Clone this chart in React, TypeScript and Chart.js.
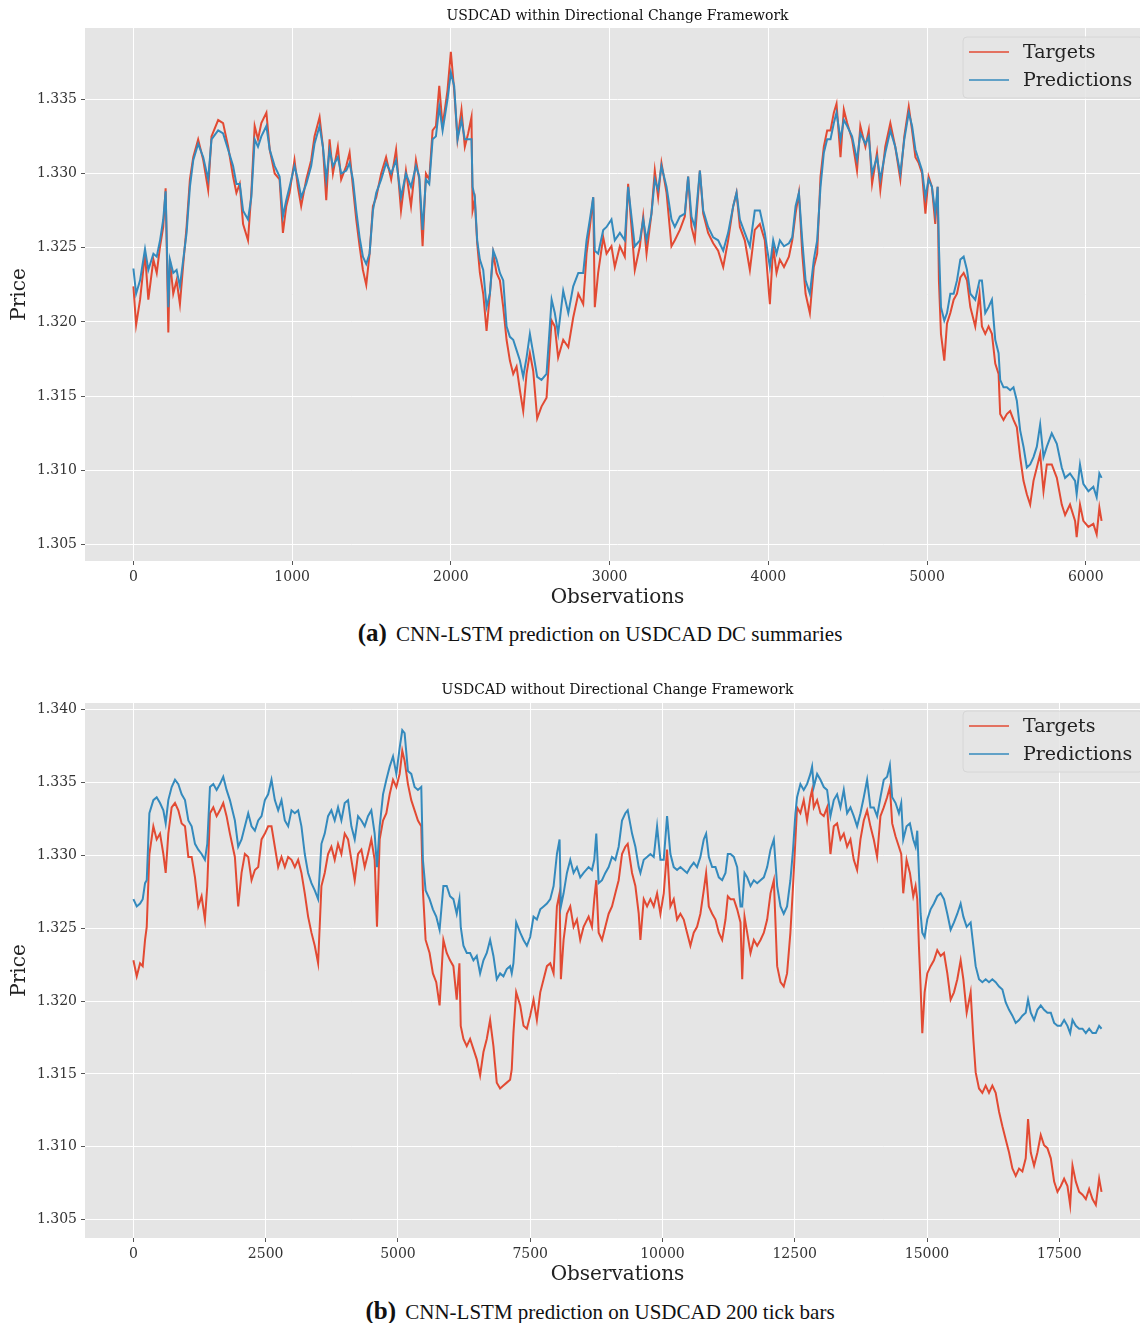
import React, { useEffect, useRef } from "react";
import { Chart, registerables } from "chart.js";

Chart.register(...registerables);

// ---------------- Panel (a): within Directional Change Framework ----------------
const titleA = "USDCAD within Directional Change Framework";
const captionLabelA = "(a)";
const captionTextA = "CNN-LSTM prediction on USDCAD DC summaries";

const obsA = [
  0, 17, 42, 73, 94, 126, 147, 168, 188, 203, 220, 230, 251, 272, 293, 314, 335, 356, 377, 408,
  440, 471, 492, 534, 565, 597, 628, 649, 670, 691, 722, 743, 764, 785, 806, 838, 859, 890, 921, 942,
  963, 984, 1015, 1036, 1057, 1089, 1120, 1141, 1173, 1194, 1215, 1236, 1257, 1288, 1309, 1341, 1362, 1383, 1404, 1425,
  1446, 1467, 1488, 1509, 1530, 1561, 1592, 1624, 1655, 1686, 1717, 1749, 1780, 1801, 1822, 1843, 1864, 1885, 1906, 1927,
  1948, 1979, 2000, 2021, 2042, 2067, 2088, 2109, 2130, 2137, 2151, 2166, 2183, 2204, 2225, 2246, 2267, 2288, 2309, 2330,
  2351, 2372, 2393, 2414, 2435, 2456, 2477, 2498, 2519, 2544, 2571, 2603, 2635, 2655, 2676, 2708, 2740, 2771, 2803, 2834,
  2855, 2876, 2897, 2907, 2928, 2960, 2981, 3012, 3033, 3065, 3096, 3117, 3138, 3159, 3191, 3212, 3233, 3264, 3285, 3306,
  3327, 3359, 3390, 3411, 3443, 3474, 3495, 3516, 3537, 3569, 3590, 3621, 3653, 3684, 3716, 3747, 3779, 3800, 3821, 3852,
  3884, 3915, 3947, 3978, 4010, 4031, 4052, 4073, 4099, 4130, 4151, 4172, 4193, 4214, 4235, 4262, 4287, 4308, 4329, 4350,
  4371, 4392, 4413, 4430, 4455, 4476, 4497, 4528, 4559, 4580, 4612, 4633, 4654, 4685, 4706, 4737, 4769, 4800, 4832, 4857,
  4885, 4906, 4927, 4948, 4969, 4990, 5010, 5031, 5052, 5067, 5075, 5088, 5109, 5126, 5147, 5168, 5189, 5210, 5231, 5252,
  5273, 5304, 5331, 5346, 5367, 5388, 5409, 5430, 5451, 5461, 5482, 5503, 5524, 5545, 5566, 5587, 5608, 5629, 5650, 5671,
  5692, 5713, 5734, 5755, 5786, 5818, 5849, 5870, 5901, 5933, 5943, 5964, 5985, 6017, 6048, 6069, 6086, 6100,
];

const targetsA = [
  1.3224, 1.3198, 1.3215, 1.3246, 1.3215, 1.3242, 1.3233, 1.3251, 1.3264, 1.3290, 1.3193, 1.3242, 1.3219, 1.3228, 1.3212, 1.3239, 1.3264, 1.3296, 1.3311, 1.3323,
  1.3309, 1.3289, 1.3325, 1.3336, 1.3334, 1.3318, 1.3298, 1.3287, 1.3293, 1.3266, 1.3255, 1.3287, 1.3332, 1.3323, 1.3334, 1.3341, 1.3316, 1.3300, 1.3296, 1.3260,
  1.3278, 1.3287, 1.3309, 1.3291, 1.3278, 1.3296, 1.3309, 1.3325, 1.3338, 1.3318, 1.3282, 1.3323, 1.3300, 1.3318, 1.3296, 1.3305, 1.3314, 1.3291, 1.3269, 1.3251,
  1.3235, 1.3225, 1.3246, 1.3278, 1.3284, 1.3300, 1.3311, 1.3296, 1.3316, 1.3275, 1.3302, 1.3278, 1.3309, 1.3296, 1.3251, 1.3300, 1.3296, 1.3329, 1.3332, 1.3359,
  1.3332, 1.3356, 1.3382, 1.3356, 1.3323, 1.3343, 1.3318, 1.3327, 1.3338, 1.3275, 1.3282, 1.3253, 1.3233, 1.3219, 1.3194, 1.3219, 1.3246, 1.3233, 1.3228, 1.3210,
  1.3188, 1.3174, 1.3165, 1.3170, 1.3154, 1.3140, 1.3165, 1.3179, 1.3167, 1.3135, 1.3143, 1.3149, 1.3201, 1.3197, 1.3176, 1.3188, 1.3183, 1.3203, 1.3219, 1.3212,
  1.3246, 1.3264, 1.3284, 1.3210, 1.3233, 1.3257, 1.3246, 1.3251, 1.3237, 1.3251, 1.3244, 1.3293, 1.3264, 1.3235, 1.3251, 1.3271, 1.3246, 1.3273, 1.3302, 1.3284,
  1.3307, 1.3287, 1.3251, 1.3255, 1.3262, 1.3271, 1.3298, 1.3264, 1.3255, 1.3302, 1.3273, 1.3260, 1.3253, 1.3248, 1.3237, 1.3255, 1.3278, 1.3287, 1.3264, 1.3255,
  1.3235, 1.3262, 1.3266, 1.3255, 1.3212, 1.3251, 1.3233, 1.3242, 1.3237, 1.3244, 1.3255, 1.3273, 1.3287, 1.3246, 1.3219, 1.3206, 1.3237, 1.3246, 1.3298, 1.3318,
  1.3329, 1.3329, 1.3341, 1.3347, 1.3311, 1.3343, 1.3334, 1.3323, 1.3302, 1.3332, 1.3318, 1.3329, 1.3293, 1.3314, 1.3289, 1.3318, 1.3334, 1.3318, 1.3296, 1.3325,
  1.3345, 1.3329, 1.3311, 1.3307, 1.3300, 1.3273, 1.3298, 1.3291, 1.3266, 1.3291, 1.3228, 1.3192, 1.3174, 1.3199, 1.3206, 1.3215, 1.3219, 1.3230, 1.3233, 1.3228,
  1.3210, 1.3197, 1.3219, 1.3197, 1.3192, 1.3197, 1.3192, 1.3172, 1.3165, 1.3138, 1.3134, 1.3138, 1.3140, 1.3134, 1.3129, 1.3109, 1.3093, 1.3084, 1.3077, 1.3093,
  1.3102, 1.3111, 1.3086, 1.3104, 1.3104, 1.3095, 1.3077, 1.3070, 1.3077, 1.3066, 1.3055, 1.3077, 1.3066, 1.3062, 1.3064, 1.3057, 1.3075, 1.3066,
];

const predictionsA = [
  1.3236, 1.3219, 1.3228, 1.3249, 1.3235, 1.3246, 1.3244, 1.3255, 1.3269, 1.3288, 1.3210, 1.3242, 1.3233, 1.3235, 1.3224, 1.3242, 1.3260, 1.3291, 1.3309, 1.3320,
  1.3311, 1.3296, 1.3323, 1.3329, 1.3327, 1.3316, 1.3305, 1.3293, 1.3293, 1.3275, 1.3269, 1.3284, 1.3323, 1.3318, 1.3325, 1.3332, 1.3316, 1.3305, 1.3298, 1.3271,
  1.3282, 1.3291, 1.3305, 1.3296, 1.3284, 1.3293, 1.3305, 1.3320, 1.3332, 1.3318, 1.3296, 1.3316, 1.3305, 1.3311, 1.3300, 1.3302, 1.3307, 1.3296, 1.3275, 1.3257,
  1.3244, 1.3239, 1.3246, 1.3275, 1.3287, 1.3296, 1.3307, 1.3300, 1.3309, 1.3284, 1.3300, 1.3291, 1.3305, 1.3298, 1.3262, 1.3296, 1.3293, 1.3323, 1.3325, 1.3345,
  1.3329, 1.3350, 1.3368, 1.3359, 1.3323, 1.3336, 1.3323, 1.3323, 1.3323, 1.3291, 1.3284, 1.3255, 1.3242, 1.3235, 1.3210, 1.3219, 1.3248, 1.3242, 1.3233, 1.3228,
  1.3197, 1.3190, 1.3188, 1.3181, 1.3174, 1.3163, 1.3176, 1.3192, 1.3179, 1.3163, 1.3161, 1.3165, 1.3215, 1.3206, 1.3192, 1.3221, 1.3206, 1.3224, 1.3233, 1.3233,
  1.3255, 1.3269, 1.3284, 1.3248, 1.3246, 1.3262, 1.3264, 1.3269, 1.3255, 1.3260, 1.3255, 1.3291, 1.3271, 1.3251, 1.3255, 1.3269, 1.3255, 1.3273, 1.3296, 1.3289,
  1.3305, 1.3291, 1.3269, 1.3264, 1.3271, 1.3273, 1.3298, 1.3271, 1.3264, 1.3302, 1.3275, 1.3264, 1.3257, 1.3255, 1.3248, 1.3260, 1.3278, 1.3287, 1.3269, 1.3260,
  1.3251, 1.3275, 1.3275, 1.3260, 1.3237, 1.3255, 1.3246, 1.3255, 1.3251, 1.3253, 1.3257, 1.3278, 1.3287, 1.3255, 1.3228, 1.3219, 1.3242, 1.3255, 1.3291, 1.3314,
  1.3323, 1.3323, 1.3334, 1.3341, 1.3323, 1.3336, 1.3332, 1.3325, 1.3309, 1.3327, 1.3320, 1.3325, 1.3300, 1.3311, 1.3296, 1.3314, 1.3329, 1.3318, 1.3300, 1.3323,
  1.3341, 1.3332, 1.3316, 1.3309, 1.3302, 1.3284, 1.3296, 1.3291, 1.3273, 1.3291, 1.3251, 1.3210, 1.3201, 1.3206, 1.3219, 1.3219, 1.3228, 1.3242, 1.3244, 1.3235,
  1.3219, 1.3215, 1.3228, 1.3228, 1.3206, 1.3210, 1.3215, 1.3188, 1.3179, 1.3161, 1.3156, 1.3156, 1.3154, 1.3156, 1.3147, 1.3127, 1.3116, 1.3102, 1.3104, 1.3109,
  1.3116, 1.3131, 1.3109, 1.3116, 1.3125, 1.3118, 1.3102, 1.3095, 1.3098, 1.3093, 1.3084, 1.3104, 1.3091, 1.3086, 1.3089, 1.3082, 1.3098, 1.3095,
];

const xTicksA = [0, 1000, 2000, 3000, 4000, 5000, 6000];
const yTicksA = [1.305, 1.31, 1.315, 1.32, 1.325, 1.33, 1.335];

// ---------------- Panel (b): without Directional Change Framework ----------------
const titleB = "USDCAD without Directional Change Framework";
const captionLabelB = "(b)";
const captionTextB = "CNN-LSTM prediction on USDCAD 200 tick bars";

const obsB = [
  0, 63, 126, 176, 220, 252, 302, 377, 440, 503, 566, 610, 660, 723, 786, 849, 912, 975, 1038, 1101,
  1164, 1226, 1289, 1352, 1396, 1447, 1510, 1573, 1635, 1698, 1761, 1824, 1918, 1981, 2044, 2107, 2170, 2233, 2296, 2359,
  2422, 2485, 2547, 2610, 2673, 2736, 2799, 2862, 2925, 2988, 3051, 3114, 3176, 3239, 3302, 3365, 3428, 3491, 3554, 3616,
  3679, 3742, 3805, 3868, 3931, 3994, 4057, 4120, 4183, 4246, 4309, 4372, 4434, 4497, 4560, 4604, 4655, 4718, 4781, 4844,
  4907, 4970, 5033, 5082, 5126, 5189, 5252, 5315, 5378, 5441, 5472, 5523, 5598, 5661, 5724, 5787, 5859, 5922, 5985, 6048,
  6111, 6162, 6187, 6238, 6301, 6364, 6427, 6490, 6553, 6616, 6679, 6742, 6805, 6868, 6931, 6994, 7057, 7120, 7151, 7183,
  7235, 7311, 7374, 7437, 7500, 7563, 7626, 7690, 7753, 7816, 7879, 7942, 8005, 8055, 8080, 8131, 8194, 8257, 8320, 8383,
  8446, 8509, 8604, 8667, 8711, 8749, 8794, 8857, 8920, 8983, 9046, 9109, 9172, 9235, 9298, 9343, 9425, 9488, 9551, 9583,
  9646, 9709, 9772, 9835, 9898, 9961, 10024, 10087, 10150, 10213, 10276, 10339, 10402, 10465, 10528, 10591, 10654, 10717, 10780, 10825,
  10876, 10939, 11002, 11065, 11128, 11191, 11235, 11286, 11349, 11412, 11475, 11507, 11551, 11601, 11664, 11727, 11790, 11853, 11916, 11979,
  12042, 12105, 12168, 12231, 12292, 12355, 12418, 12468, 12513, 12544, 12607, 12670, 12733, 12796, 12828, 12860, 12923, 12986, 13049, 13112,
  13175, 13238, 13301, 13364, 13427, 13490, 13553, 13616, 13679, 13742, 13805, 13868, 13931, 13994, 14057, 14120, 14183, 14246, 14298, 14342,
  14406, 14469, 14513, 14551, 14614, 14677, 14740, 14784, 14816, 14847, 14879, 14911, 14955, 15005, 15068, 15131, 15194, 15258, 15321, 15384,
  15447, 15510, 15573, 15636, 15687, 15750, 15825, 15876, 15920, 15983, 16046, 16109, 16172, 16235, 16298, 16362, 16425, 16488, 16551, 16614,
  16677, 16740, 16803, 16866, 16910, 16961, 17024, 17087, 17150, 17213, 17276, 17340, 17403, 17466, 17529, 17592, 17655, 17706, 17750, 17813,
  17876, 17939, 18002, 18065, 18128, 18191, 18254, 18299,
];

const targetsB = [
  1.3228, 1.3217, 1.3226, 1.3224, 1.3242, 1.3251, 1.3301, 1.3320, 1.3311, 1.3315, 1.3301, 1.3288, 1.3315, 1.3333, 1.3336, 1.3331, 1.3322, 1.3320, 1.3299, 1.3299,
  1.3285, 1.3265, 1.3272, 1.3256, 1.3279, 1.3329, 1.3333, 1.3327, 1.3331, 1.3336, 1.3327, 1.3315, 1.3299, 1.3265, 1.3288, 1.3301, 1.3299, 1.3283, 1.3290, 1.3292,
  1.3311, 1.3315, 1.3320, 1.3320, 1.3306, 1.3292, 1.3299, 1.3292, 1.3299, 1.3297, 1.3292, 1.3297, 1.3288, 1.3274, 1.3258, 1.3247, 1.3238, 1.3226, 1.3279, 1.3288,
  1.3301, 1.3306, 1.3297, 1.3308, 1.3301, 1.3315, 1.3311, 1.3297, 1.3283, 1.3301, 1.3304, 1.3292, 1.3301, 1.3311, 1.3297, 1.3251, 1.3311, 1.3324, 1.3329, 1.3342,
  1.3352, 1.3347, 1.3356, 1.3372, 1.3365, 1.3349, 1.3338, 1.3331, 1.3324, 1.3320, 1.3276, 1.3242, 1.3233, 1.3219, 1.3213, 1.3197, 1.3242, 1.3233, 1.3228, 1.3224,
  1.3201, 1.3226, 1.3183, 1.3174, 1.3169, 1.3174, 1.3167, 1.3160, 1.3149, 1.3165, 1.3174, 1.3187, 1.3169, 1.3144, 1.3140, 1.3142, 1.3144, 1.3146, 1.3153, 1.3178,
  1.3206, 1.3197, 1.3183, 1.3181, 1.3190, 1.3201, 1.3187, 1.3206, 1.3215, 1.3224, 1.3226, 1.3219, 1.3265, 1.3274, 1.3215, 1.3242, 1.3260, 1.3265, 1.3251, 1.3256,
  1.3242, 1.3251, 1.3258, 1.3251, 1.3270, 1.3283, 1.3247, 1.3242, 1.3251, 1.3260, 1.3265, 1.3274, 1.3283, 1.3301, 1.3306, 1.3308, 1.3288, 1.3279, 1.3260, 1.3242,
  1.3270, 1.3265, 1.3270, 1.3265, 1.3274, 1.3260, 1.3274, 1.3304, 1.3265, 1.3270, 1.3256, 1.3260, 1.3256, 1.3247, 1.3238, 1.3247, 1.3251, 1.3260, 1.3276, 1.3288,
  1.3265, 1.3260, 1.3256, 1.3247, 1.3242, 1.3256, 1.3272, 1.3270, 1.3270, 1.3263, 1.3254, 1.3215, 1.3258, 1.3247, 1.3233, 1.3242, 1.3238, 1.3242, 1.3247, 1.3256,
  1.3274, 1.3283, 1.3224, 1.3213, 1.3210, 1.3219, 1.3247, 1.3279, 1.3311, 1.3333, 1.3329, 1.3338, 1.3324, 1.3340, 1.3345, 1.3333, 1.3338, 1.3329, 1.3327, 1.3333,
  1.3301, 1.3320, 1.3322, 1.3311, 1.3315, 1.3306, 1.3311, 1.3297, 1.3290, 1.3311, 1.3324, 1.3331, 1.3320, 1.3311, 1.3299, 1.3327, 1.3333, 1.3340, 1.3347, 1.3322,
  1.3313, 1.3306, 1.3301, 1.3274, 1.3297, 1.3288, 1.3272, 1.3279, 1.3270, 1.3238, 1.3210, 1.3178, 1.3206, 1.3219, 1.3224, 1.3228, 1.3235, 1.3231, 1.3233, 1.3219,
  1.3201, 1.3206, 1.3215, 1.3228, 1.3215, 1.3192, 1.3206, 1.3174, 1.3151, 1.3140, 1.3137, 1.3142, 1.3137, 1.3142, 1.3137, 1.3124, 1.3114, 1.3105, 1.3096, 1.3085,
  1.3080, 1.3085, 1.3083, 1.3092, 1.3119, 1.3096, 1.3087, 1.3096, 1.3108, 1.3101, 1.3099, 1.3092, 1.3076, 1.3069, 1.3073, 1.3078, 1.3073, 1.3060, 1.3087, 1.3076,
  1.3069, 1.3067, 1.3064, 1.3071, 1.3064, 1.3060, 1.3078, 1.3069,
];

const predictionsB = [
  1.3270, 1.3265, 1.3267, 1.3270, 1.3281, 1.3283, 1.3329, 1.3338, 1.3340, 1.3336, 1.3331, 1.3322, 1.3338, 1.3347, 1.3352, 1.3349, 1.3342, 1.3338, 1.3324, 1.3320,
  1.3308, 1.3304, 1.3301, 1.3297, 1.3308, 1.3347, 1.3349, 1.3345, 1.3349, 1.3354, 1.3345, 1.3338, 1.3324, 1.3306, 1.3311, 1.3320, 1.3329, 1.3320, 1.3317, 1.3324,
  1.3327, 1.3338, 1.3342, 1.3352, 1.3338, 1.3331, 1.3338, 1.3324, 1.3320, 1.3331, 1.3329, 1.3331, 1.3320, 1.3301, 1.3288, 1.3281, 1.3276, 1.3270, 1.3308, 1.3315,
  1.3327, 1.3331, 1.3324, 1.3333, 1.3324, 1.3336, 1.3338, 1.3320, 1.3311, 1.3327, 1.3324, 1.3320, 1.3327, 1.3331, 1.3315, 1.3292, 1.3320, 1.3342, 1.3352, 1.3361,
  1.3368, 1.3356, 1.3374, 1.3386, 1.3384, 1.3358, 1.3356, 1.3347, 1.3345, 1.3347, 1.3297, 1.3276, 1.3270, 1.3263, 1.3258, 1.3249, 1.3279, 1.3279, 1.3272, 1.3270,
  1.3260, 1.3270, 1.3251, 1.3238, 1.3233, 1.3233, 1.3228, 1.3231, 1.3219, 1.3228, 1.3233, 1.3242, 1.3231, 1.3215, 1.3219, 1.3217, 1.3222, 1.3224, 1.3219, 1.3226,
  1.3254, 1.3247, 1.3242, 1.3238, 1.3244, 1.3258, 1.3256, 1.3263, 1.3265, 1.3267, 1.3270, 1.3279, 1.3301, 1.3311, 1.3265, 1.3274, 1.3288, 1.3297, 1.3288, 1.3292,
  1.3285, 1.3288, 1.3292, 1.3290, 1.3297, 1.3315, 1.3281, 1.3283, 1.3288, 1.3292, 1.3299, 1.3297, 1.3306, 1.3324, 1.3329, 1.3331, 1.3315, 1.3306, 1.3292, 1.3288,
  1.3297, 1.3299, 1.3301, 1.3299, 1.3320, 1.3297, 1.3297, 1.3327, 1.3301, 1.3292, 1.3290, 1.3292, 1.3290, 1.3288, 1.3292, 1.3295, 1.3292, 1.3299, 1.3311, 1.3315,
  1.3299, 1.3292, 1.3292, 1.3285, 1.3283, 1.3288, 1.3301, 1.3301, 1.3299, 1.3292, 1.3265, 1.3265, 1.3288, 1.3285, 1.3279, 1.3283, 1.3281, 1.3283, 1.3285, 1.3292,
  1.3304, 1.3311, 1.3279, 1.3265, 1.3260, 1.3265, 1.3283, 1.3304, 1.3329, 1.3340, 1.3349, 1.3345, 1.3349, 1.3356, 1.3361, 1.3347, 1.3356, 1.3352, 1.3347, 1.3345,
  1.3327, 1.3338, 1.3342, 1.3333, 1.3345, 1.3329, 1.3333, 1.3327, 1.3320, 1.3329, 1.3340, 1.3352, 1.3333, 1.3333, 1.3327, 1.3340, 1.3352, 1.3354, 1.3362, 1.3340,
  1.3336, 1.3329, 1.3336, 1.3311, 1.3320, 1.3322, 1.3311, 1.3306, 1.3317, 1.3288, 1.3260, 1.3247, 1.3244, 1.3256, 1.3263, 1.3267, 1.3272, 1.3274, 1.3270, 1.3260,
  1.3249, 1.3254, 1.3260, 1.3267, 1.3258, 1.3251, 1.3254, 1.3238, 1.3224, 1.3215, 1.3213, 1.3215, 1.3213, 1.3215, 1.3213, 1.3210, 1.3208, 1.3199, 1.3194, 1.3190,
  1.3185, 1.3187, 1.3190, 1.3192, 1.3201, 1.3192, 1.3187, 1.3194, 1.3197, 1.3194, 1.3192, 1.3192, 1.3185, 1.3183, 1.3183, 1.3187, 1.3183, 1.3178, 1.3187, 1.3183,
  1.3181, 1.3181, 1.3178, 1.3181, 1.3178, 1.3178, 1.3183, 1.3181,
];

const xTicksB = [0, 2500, 5000, 7500, 10000, 12500, 15000, 17500];
const yTicksB = [1.305, 1.31, 1.315, 1.32, 1.325, 1.33, 1.335, 1.34];

const seriesNames = ["Targets", "Predictions"];
const seriesColors = ["#E24A33", "#348ABD"];
const xAxisTitle = "Observations";
const yAxisTitle = "Price";

const SERIF = '"DejaVu Serif", serif';
const TIMES = '"Liberation Serif", "Times New Roman", serif';

type PanelProps = {
  title: string;
  obs: number[];
  targets: number[];
  predictions: number[];
  xTicks: number[];
  yTicks: number[];
  xMin: number;
  xMax: number;
  yMin: number;
  yMax: number;
  top: number;
  height: number;
  titleY: number;
  legendTop: number;
};

function Panel(p: PanelProps) {
  const ref = useRef<HTMLCanvasElement | null>(null);

  useEffect(() => {
    if (!ref.current) return;
    const decor = {
      id: "decor",
      beforeDraw(chart: any) {
        const { ctx, chartArea: ca } = chart;
        ctx.save();
        ctx.fillStyle = "#ffffff";
        ctx.fillRect(0, 0, chart.width, chart.height);
        ctx.fillStyle = "#E5E5E5";
        ctx.fillRect(ca.left, ca.top, ca.right - ca.left, ca.bottom - ca.top);
        ctx.restore();
      },
      afterDraw(chart: any) {
        const { ctx, chartArea: ca } = chart;
        ctx.save();
        // title
        ctx.font = `14px ${SERIF}`;
        ctx.fillStyle = "#111";
        ctx.textAlign = "center";
        ctx.textBaseline = "middle";
        ctx.fillText(p.title, (ca.left + ca.right) / 2, p.titleY);
        // legend box
        const bx = 963, by = p.legendTop, bw = 180, bh = 61, r = 4;
        ctx.beginPath();
        ctx.moveTo(bx + r, by);
        ctx.lineTo(bx + bw - r, by);
        ctx.quadraticCurveTo(bx + bw, by, bx + bw, by + r);
        ctx.lineTo(bx + bw, by + bh - r);
        ctx.quadraticCurveTo(bx + bw, by + bh, bx + bw - r, by + bh);
        ctx.lineTo(bx + r, by + bh);
        ctx.quadraticCurveTo(bx, by + bh, bx, by + bh - r);
        ctx.lineTo(bx, by + r);
        ctx.quadraticCurveTo(bx, by, bx + r, by);
        ctx.closePath();
        ctx.fillStyle = "rgba(229,229,229,0.85)";
        ctx.fill();
        ctx.strokeStyle = "#D6D6D6";
        ctx.lineWidth = 1;
        ctx.stroke();
        ctx.font = `19px ${SERIF}`;
        ctx.textAlign = "left";
        seriesNames.forEach((name, i) => {
          const y = by + 15 + i * 28;
          ctx.strokeStyle = seriesColors[i];
          ctx.lineWidth = 1.5;
          ctx.beginPath();
          ctx.moveTo(969, y);
          ctx.lineTo(1009, y);
          ctx.stroke();
          ctx.fillStyle = "#222";
          ctx.fillText(name, 1023, y + 1);
        });
        ctx.restore();
      },
    };

    const chart = new Chart(ref.current, {
      type: "line",
      data: {
        datasets: [
          {
            label: seriesNames[0],
            data: p.obs.map((x, i) => ({ x, y: p.targets[i] })),
            borderColor: seriesColors[0],
            borderWidth: 2,
            pointRadius: 0,
            tension: 0,
            fill: false,
            order: 1,
          },
          {
            label: seriesNames[1],
            data: p.obs.map((x, i) => ({ x, y: p.predictions[i] })),
            borderColor: seriesColors[1],
            borderWidth: 2,
            pointRadius: 0,
            tension: 0,
            fill: false,
            order: 0,
          },
        ],
      },
      options: {
        animation: false,
        responsive: false,
        maintainAspectRatio: false,
        layout: { padding: { top: 28, right: 10, bottom: 0, left: 0 } },
        plugins: {
          legend: { display: false },
          tooltip: { enabled: false },
          title: { display: false },
        },
        scales: {
          x: {
            type: "linear",
            min: p.xMin,
            max: p.xMax,
            afterFit: (s: any) => {
              s.height = 54;
            },
            afterBuildTicks: (s: any) => {
              s.ticks = p.xTicks.map((v) => ({ value: v }));
            },
            ticks: {
              autoSkip: false,
              maxRotation: 0,
              padding: 4,
              color: "#333",
              font: { family: SERIF, size: 14 },
              callback: (v: any) => String(v),
            },
            grid: {
              color: "#ffffff",
              lineWidth: 1,
              tickLength: 4,
              tickColor: "#555",
              tickWidth: 1,
            },
            border: { display: false },
            title: {
              display: true,
              text: xAxisTitle,
              color: "#222",
              font: { family: SERIF, size: 20 },
              padding: { top: 0, bottom: 5 },
            },
          },
          y: {
            type: "linear",
            min: p.yMin,
            max: p.yMax,
            afterFit: (s: any) => {
              s.width = 85;
            },
            afterBuildTicks: (s: any) => {
              s.ticks = p.yTicks.map((v) => ({ value: v }));
            },
            ticks: {
              padding: 4,
              color: "#333",
              font: { family: SERIF, size: 14 },
              callback: (v: any) => Number(v).toFixed(3),
            },
            grid: {
              color: "#ffffff",
              lineWidth: 1,
              tickLength: 4,
              tickColor: "#555",
              tickWidth: 1,
            },
            border: { display: false },
            title: {
              display: true,
              text: yAxisTitle,
              color: "#222",
              font: { family: SERIF, size: 20 },
              padding: { top: 8, bottom: 0 },
            },
          },
        },
      },
      plugins: [decor],
    } as any);
    return () => chart.destroy();
  }, []);

  return (
    <canvas
      ref={ref}
      width={1160}
      height={p.height}
      style={{ position: "absolute", left: 0, top: p.top, width: 1160, height: p.height }}
    />
  );
}

function Caption({ label, text, centerY }: { label: string; text: string; centerY: number }) {
  return (
    <div
      style={{
        position: "absolute",
        left: 0,
        top: centerY - 16,
        width: 1200,
        height: 32,
        lineHeight: "32px",
        textAlign: "center",
        fontFamily: TIMES,
        fontSize: 21,
        color: "#111",
        whiteSpace: "nowrap",
      }}
    >
      <span style={{ fontWeight: "bold", fontSize: 25, marginRight: 4 }}>{label}</span> {text}
    </div>
  );
}

export default function App() {
  return (
    <div
      style={{
        position: "absolute",
        left: 0,
        top: 0,
        width: 1140,
        height: 1323,
        overflow: "hidden",
        background: "#ffffff",
      }}
    >
      <Panel
        title={titleA}
        obs={obsA}
        targets={targetsA}
        predictions={predictionsA}
        xTicks={xTicksA}
        yTicks={yTicksA}
        xMin={-305}
        xMax={6405}
        yMin={1.3039}
        yMax={1.3398}
        top={0}
        height={615}
        titleY={16}
        legendTop={37}
      />
      <Caption label={captionLabelA} text={captionTextA} centerY={633} />
      <Panel
        title={titleB}
        obs={obsB}
        targets={targetsB}
        predictions={predictionsB}
        xTicks={xTicksB}
        yTicks={yTicksB}
        xMin={-915}
        xMax={19215}
        yMin={1.30373}
        yMax={1.34047}
        top={675}
        height={617}
        titleY={15}
        legendTop={36}
      />
      <Caption label={captionLabelB} text={captionTextB} centerY={1311} />
    </div>
  );
}
